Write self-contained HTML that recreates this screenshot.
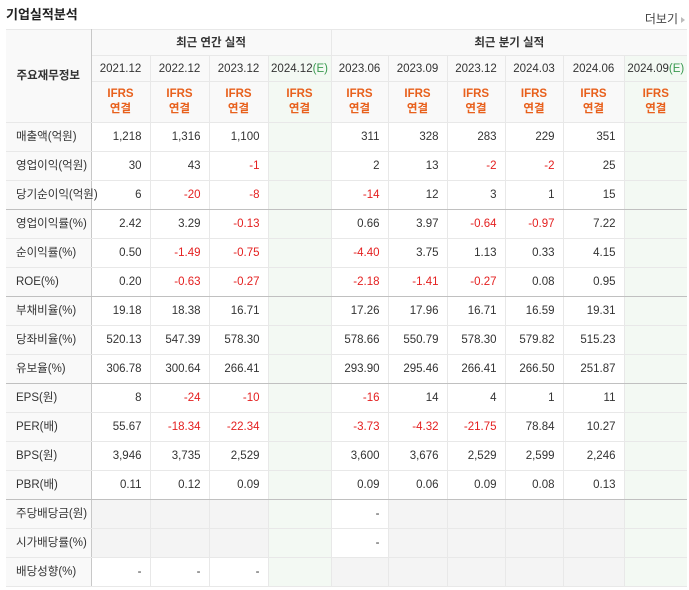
<!DOCTYPE html>
<html><head><meta charset="utf-8">
<style>
body{margin:0;width:689px;height:590px;background:#fff;font-family:"Liberation Sans","Noto Sans CJK KR",sans-serif;color:#333;overflow:hidden;position:relative}
.title{position:absolute;left:6px;top:4px;font-size:13px;font-weight:bold;color:#222}
.more{position:absolute;right:4px;top:10px;font-size:12px;color:#444}
.more:after{content:"";display:inline-block;border-left:4px solid #bbb;border-top:3px solid transparent;border-bottom:3px solid transparent;margin-left:3px}
table{position:absolute;left:6px;top:29px;border-collapse:collapse;table-layout:fixed;width:681px;font-size:11.5px;line-height:14px}
td,th{border:1px solid #e8e8e8;padding:0;font-weight:normal}
table{border-top:1px solid #c8c8c8;border-bottom:1px solid #c0c0c0}
th{background:#f9f9f9;color:#333;text-align:center}
.hd1 th{height:25px;font-weight:bold}
.hd2 th{height:25px}
.hd3 th{height:40px;color:#e8601c;font-weight:bold;line-height:15px}
td{height:28px;text-align:right;padding-right:8px;white-space:nowrap}
td.lab{text-align:left;padding-left:10px;background:#f9f9f9}
.e{background:#f3f9f3 !important}
.g{background:#f4f4f4}
.neg{color:#e42020}
.sep td{border-bottom:1px solid #c0c0c0}
.lc{border-right:1px solid #c8c8c8}
.qs{border-left:1px solid #c8c8c8}
.est{color:#3a9a50}
tr>*:first-child{border-left:none}
tr>*:last-child{border-right:none}
</style></head><body>
<div class="title">기업실적분석</div>
<div class="more">더보기</div>
<table>
<colgroup><col style="width:85px"><col style="width:59px"><col style="width:59px"><col style="width:59px"><col style="width:63px"><col style="width:57px"><col style="width:59px"><col style="width:58px"><col style="width:58px"><col style="width:61px"><col style="width:63px"></colgroup>
<tr class="hd1"><th rowspan="3" class="lc">주요재무정보</th><th colspan="4">최근 연간 실적</th><th colspan="6" class="qs">최근 분기 실적</th></tr>
<tr class="hd2"><th>2021.12</th><th>2022.12</th><th>2023.12</th><th class="e">2024.12<span class="est">(E)</span></th><th class="qs">2023.06</th><th>2023.09</th><th>2023.12</th><th>2024.03</th><th>2024.06</th><th class="e">2024.09<span class="est">(E)</span></th></tr>
<tr class="hd3"><th>IFRS<br>연결</th><th>IFRS<br>연결</th><th>IFRS<br>연결</th><th class="e">IFRS<br>연결</th><th class="qs">IFRS<br>연결</th><th>IFRS<br>연결</th><th>IFRS<br>연결</th><th>IFRS<br>연결</th><th>IFRS<br>연결</th><th class="e">IFRS<br>연결</th></tr>
<tbody id="body"></tbody>
</table>
<script>
const rows=[
["매출액(억원)","1,218","1,316","1,100","","311","328","283","229","351",""],
["영업이익(억원)","30","43","-1","","2","13","-2","-2","25",""],
["당기순이익(억원)","6","-20","-8","","-14","12","3","1","15",""],
["영업이익률(%)","2.42","3.29","-0.13","","0.66","3.97","-0.64","-0.97","7.22",""],
["순이익률(%)","0.50","-1.49","-0.75","","-4.40","3.75","1.13","0.33","4.15",""],
["ROE(%)","0.20","-0.63","-0.27","","-2.18","-1.41","-0.27","0.08","0.95",""],
["부채비율(%)","19.18","18.38","16.71","","17.26","17.96","16.71","16.59","19.31",""],
["당좌비율(%)","520.13","547.39","578.30","","578.66","550.79","578.30","579.82","515.23",""],
["유보율(%)","306.78","300.64","266.41","","293.90","295.46","266.41","266.50","251.87",""],
["EPS(원)","8","-24","-10","","-16","14","4","1","11",""],
["PER(배)","55.67","-18.34","-22.34","","-3.73","-4.32","-21.75","78.84","10.27",""],
["BPS(원)","3,946","3,735","2,529","","3,600","3,676","2,529","2,599","2,246",""],
["PBR(배)","0.11","0.12","0.09","","0.09","0.06","0.09","0.08","0.13",""],
["주당배당금(원)","G","G","G","","-","G","G","G","G",""],
["시가배당률(%)","G","G","G","","-","G","G","G","G",""],
["배당성향(%)","-","-","-","","G","G","G","G","G",""]
];
const seps=[2,5,8,12];
const tb=document.getElementById('body');
rows.forEach((r,i)=>{
const tr=document.createElement('tr');


if(seps.includes(i))tr.className='sep';
r.forEach((v,j)=>{
const td=document.createElement('td');


if(j===0){td.className='lab lc';td.textContent=v;}
else{
let c=[];
if(j===4||j===10)c.push('e');
if(j===5)c.push('qs');
if(v==='G'){c.push('g');}
else{td.textContent=v;if(v.startsWith('-')&&v.length>1)c.push('neg');}
td.className=c.join(' ');
}
tr.appendChild(td);});
tb.appendChild(tr);});
</script>
</body></html>
